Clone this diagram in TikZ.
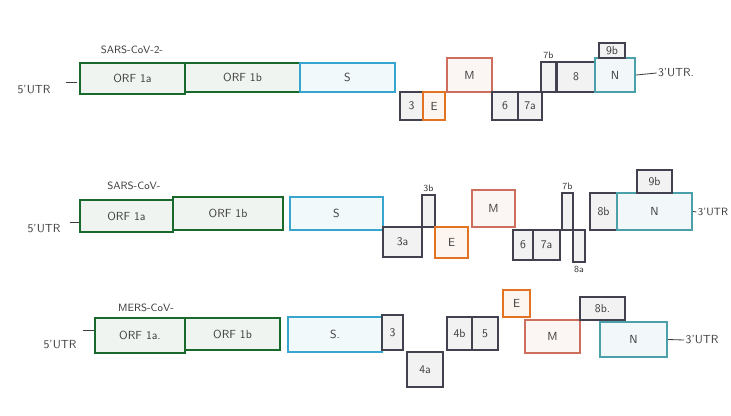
\documentclass[tikz,border=0pt]{standalone}
\usepackage{tikz}
\usetikzlibrary{arrows.meta, positioning, calc}

\definecolor{orfgreen}{RGB}{25,105,45}
\definecolor{spikeblue}{RGB}{55,165,205}
\definecolor{envorange}{RGB}{225,115,35}
\definecolor{memred}{RGB}{205,110,95}
\definecolor{nucteal}{RGB}{75,160,170}
\definecolor{accgray}{RGB}{65,65,80}
\definecolor{inkgray}{RGB}{60,60,60}

\begin{document}
\begin{tikzpicture}[
  x=0.03cm, y=-0.03cm,
  gbox/.style={draw=#1, fill=#1!7, line width=1.9pt, inner sep=0pt,
    font=\sffamily, text=inkgray},
  tag/.style={font=\sffamily\footnotesize, text=inkgray, inner sep=1pt},
  virus/.style={font=\sffamily\small, text=inkgray, inner sep=1pt},
  utr/.style={font=\sffamily, text=inkgray, inner sep=1pt},
  utrline/.style={draw=inkgray, line width=0.7pt}
]
  \useasboundingbox (0,0) rectangle (731,415);

  % genome boxes: name/x1/y1/x2/y2/colour/label
  \foreach \nm/\xa/\ya/\xb/\yb/\col/\lbl in {
    pa/80/63/185/94/orfgreen/{ORF 1a},
    pb/185/63/300/92/orfgreen/{ORF 1b},
    ps/300/63/395/92/spikeblue/S,
    pt/400/92/423/120/accgray/3,
    pe/423/92/445/120/envorange/E,
    pm/447/58/492/92/memred/M,
    psix/492/92/518/120/accgray/6,
    psa/518/92/542/120/accgray/7a,
    psb/541/62/556/92/accgray/{},
    pei/557/62/595/92/accgray/8,
    pn/595/58/635/92/nucteal/N,
    pnb/599/43/625/58/accgray/9b,
    qa/80/200/173/232/orfgreen/{ORF 1a},
    qb/173/197/283/230/orfgreen/{ORF 1b},
    qs/290/197/383/230/spikeblue/S,
    qta/383/227/422/257/accgray/3a,
    qtb/422/195/435/227/accgray/{},
    qe/435/227/468/258/envorange/E,
    qm/472/190/515/227/memred/M,
    qsix/513/230/533/260/accgray/6,
    qsa/533/230/560/260/accgray/7a,
    qsb/562/193/573/230/accgray/{},
    qea/573/230/585/262/accgray/{},
    qeb/590/193/617/230/accgray/8b,
    qn/617/193/692/230/nucteal/N,
    qnb/637/170/672/193/accgray/9b,
    ra/95/318/185/353/orfgreen/{ORF 1a.},
    rb/185/318/280/350/orfgreen/{ORF 1b},
    rs/288/317/382/352/spikeblue/{S.},
    rt/382/315/403/350/accgray/3,
    rfa/407/352/443/387/accgray/4a,
    rfb/447/317/472/350/accgray/4b,
    rfv/472/317/498/350/accgray/5,
    re/503/290/530/317/envorange/E,
    rm/525/320/580/353/memred/M,
    reb/580/297/625/320/accgray/{8b.},
    rn/600/322/667/357/nucteal/N%
  }
    \node[gbox=\col, minimum width={(\xb-\xa)*0.03cm},
      minimum height={(\yb-\ya)*0.03cm}]
      (\nm) at ({(\xa+\xb)/2},{(\ya+\yb)/2}) {\lbl};

  % small labels on narrow boxes
  \node[tag, above=1pt of psb] (psbl) {7b};
  \node[tag, above=1pt of qtb] (qtbl) {3b};
  \node[tag, above=1pt of qsb] (qsbl) {7b};
  \node[tag, below=1pt of qea] (qeal) {8a};

  % virus names
  \node[virus] (vp) at (132,50) {SARS-CoV-2-};
  \node[virus] (vq) at (134,186) {SARS-CoV-};
  \node[virus] (vr) at (146,308) {MERS-CoV-};

  % untranslated regions
  \node[utr] (up5) at (34,90) {5'UTR};
  \node[utr] (up3) at (676,73) {3'UTR.};
  \node[utr] (uq5) at (44,229) {5'UTR};
  \node[utr, font=\sffamily\small] (uq3) at (713,212) {3'UTR};
  \node[utr] (ur5) at (60,345) {5'UTR};
  \node[utr] (ur3) at (702,340) {3'UTR};

  \draw[utrline] ($(pa.west)+(-13,4)$) -- ($(pa.west)+(-2,4)$);
  \draw[utrline] (pn.east) -- (up3.west);
  \draw[utrline] ($(qa.west)+(-9,6)$) -- ($(qa.west)+(0,6)$);
  \draw[utrline] (qn.east) -- (uq3.west);
  \draw[utrline] ($(ra.west)+(-11,-5)$) -- ($(ra.west)+(0,-5)$);
  \draw[utrline] (rn.east) -- (ur3.west);
\end{tikzpicture}
\end{document}
